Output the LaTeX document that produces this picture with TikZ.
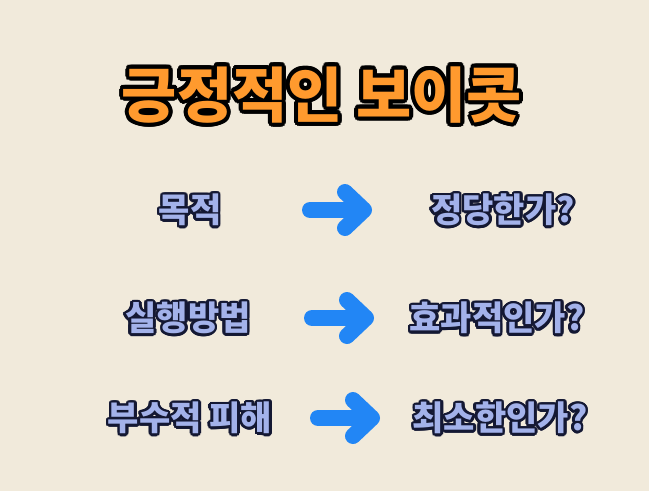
\documentclass[tikz,border=0pt]{standalone}
\usepackage{fontspec}
\newfontfamily\kr{Noto Sans CJK KR}
\definecolor{paper}{HTML}{F1EADB}
\definecolor{txtfill}{HTML}{A3B2EA}
\definecolor{txtline}{HTML}{141833}
\definecolor{ttl}{HTML}{FF9A2E}
\definecolor{arr}{HTML}{2286F5}
\newcommand{\otext}[7]{%
  \foreach \ang in {0,20,...,340}{\node[font=\kr\bfseries\fontsize{#3}{#3}\selectfont,text=#5] at ([shift={(\ang:#6)}]#2) {#7};}
  \node[font=\kr\bfseries\fontsize{#3}{#3}\selectfont,text=#4] (#1) at (#2) {#7};}
\tikzset{arrowstroke/.style={draw=arr,line width=16pt,line cap=round,line join=round}}
\begin{document}
\begin{tikzpicture}[x=1pt,y=-1pt]
\fill[paper] (0,0) rectangle (649,491);
\useasboundingbox (0,0) rectangle (649,491);
\otext{title}{322,95}{60}{ttl}{black}{4pt}{긍정적인 보이콧}
\otext{l1}{190,210}{34}{txtfill}{txtline}{2.6pt}{목적}
\otext{r1}{503,210}{34}{txtfill}{txtline}{2.6pt}{정당한가?}
\otext{l2}{188,318}{34}{txtfill}{txtline}{2.6pt}{실행방법}
\otext{r2}{497,318}{34}{txtfill}{txtline}{2.6pt}{효과적인가?}
\otext{l3}{190,418}{34}{txtfill}{txtline}{2.6pt}{부수적 피해}
\otext{r3}{500,418}{34}{txtfill}{txtline}{2.6pt}{최소한인가?}
\foreach \y/\xa in {210/310,318/312,418/318}{
  \draw[arrowstroke] (\xa,\y) -- (\xa+52,\y);
  \draw[arrowstroke] (\xa+35,\y-18) -- (\xa+54,\y) -- (\xa+35,\y+18);
}
\end{tikzpicture}
\end{document}
